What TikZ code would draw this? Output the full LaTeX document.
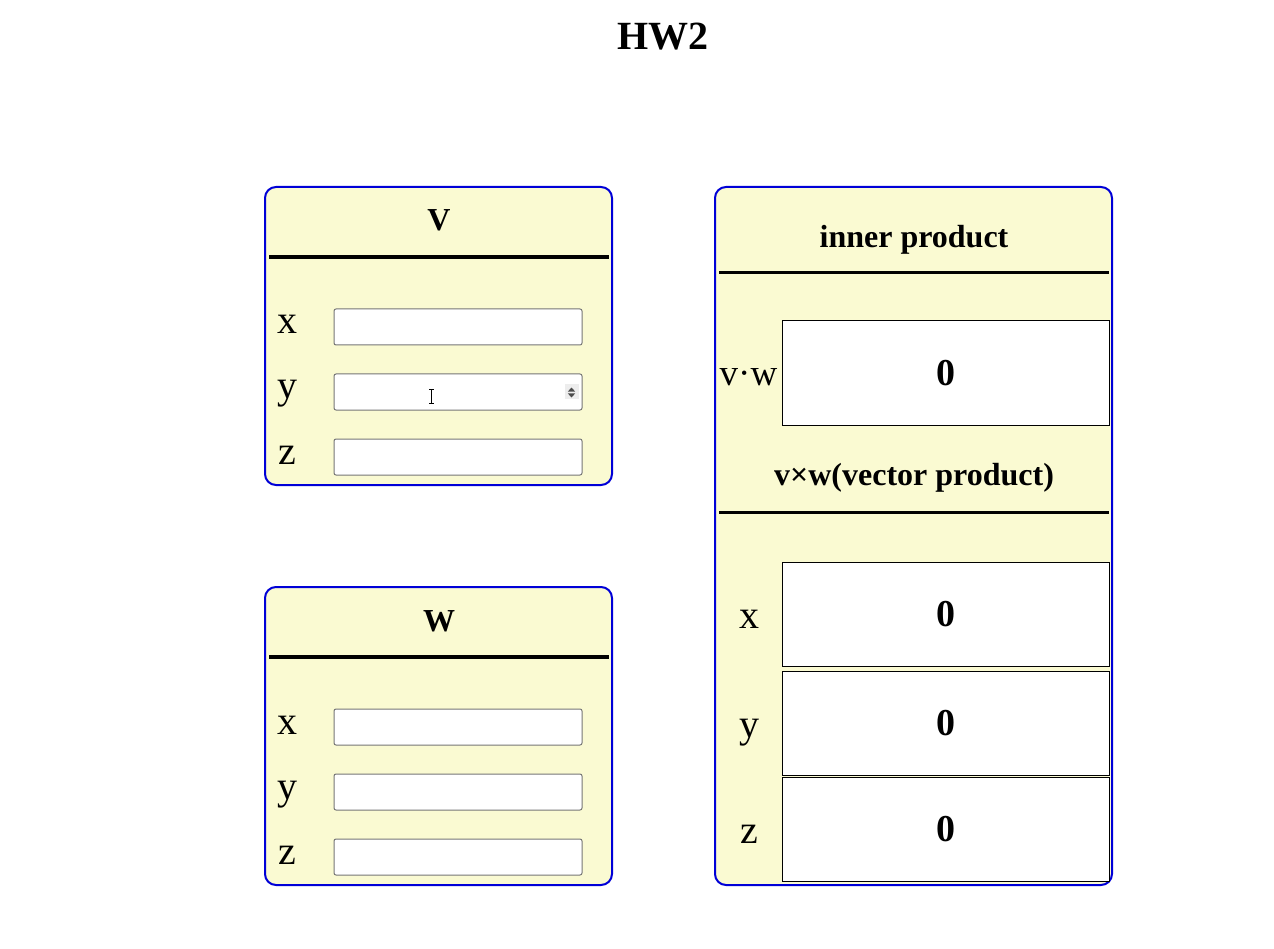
\documentclass[tikz,border=0pt]{standalone}
\usepackage{fontspec}
\setmainfont{Liberation Serif}
\usetikzlibrary{positioning}

\definecolor{panelfill}{HTML}{FAFAD2}
\definecolor{panelblue}{RGB}{0,0,215}
\definecolor{inputgray}{RGB}{118,118,118}
\newcommand{\pxsize}[1]{\fontsize{#1}{#1}\selectfont}

\tikzset{
  panel/.style={draw=panelblue, line width=2pt, fill=panelfill, rounded corners=11pt},
  rulebar/.style={line width=3.5pt, black},
  inbox/.style={draw=inputgray, line width=1pt, fill=white, rounded corners=2pt,
    minimum width=248pt, minimum height=36pt, inner sep=0pt, outer sep=0pt, anchor=north west},
  outbox/.style={draw=black, line width=1pt, fill=white, minimum width=327pt, minimum height=104pt,
    inner sep=0pt, outer sep=0pt, anchor=north west, font=\pxsize{38}\bfseries},
  lbl/.style={anchor=base, inner sep=0pt, font=\pxsize{40}},
  head/.style={anchor=base, inner sep=0pt, font=\pxsize{32}\bfseries},
}

\begin{document}
\begin{tikzpicture}[x=1pt, y=-1pt]
    \useasboundingbox (0,0) rectangle (1274,949);

    \node[anchor=base, inner sep=0pt, font=\pxsize{40}\bfseries] (hw) at (663,50) {HW2};

    % vector panels
    \foreach \vec/\off in {v/0,w/400} {
      \draw[panel] (265,187+\off) rectangle (612,485+\off);
      \draw[rulebar] (269,257+\off) -- (609,257+\off);
    }
    \node[head] (vhead) at (439,231) {V};
    \node[head] (whead) at (439,631) {W};

    \foreach \n/\yy in {x/309,y/374,z/439} {
      \node[inbox] (v\n) at (334,\yy) {};
      \node[lbl] (vl\n) at (287,\yy+25) {\n};
    }
    \foreach \n/\yy in {x/709,y/774,z/839} {
      \node[inbox] (w\n) at (334,\yy) {};
      \node[lbl] (wl\n) at (287,\yy+25) {\n};
    }

    % spinner and cursor in the y field
    \fill[black!7] (565,384) rectangle (579,398.5);
    \fill[black!70] (571.5,387.5) -- (567.8,391.6) -- (575.2,391.6) -- cycle;
    \fill[black!70] (571.5,397.5) -- (567.8,393.4) -- (575.2,393.4) -- cycle;
    \draw[line width=1pt] (431.5,389.5) -- (431.5,403.5);
    \draw[line width=0.8pt] (429,389.5) -- (434,389.5) (429,403.5) -- (434,403.5);

    % results panel
    \draw[panel] (715,187) rectangle (1112,885);
    \node[head] (inner) at (914,248) {inner product};
    \draw[rulebar] (719,272.5) -- (1109,272.5);
    \node[outbox] (dot) at (782,321) {0};
    \node[lbl, font=\pxsize{37}] (dotl) at (748.5,385) {v·w};

    \node[head] (cross) at (914,485) {v×w(vector product)};
    \draw[rulebar] (719,512.5) -- (1109,512.5);
    \foreach \n/\yy in {x/562,y/671,z/777.5} {
      \node[outbox] (c\n) at (782,\yy) {0};
      \node[lbl] (cl\n) at (749,\yy+66) {\n};
    }
\end{tikzpicture}
\end{document}
